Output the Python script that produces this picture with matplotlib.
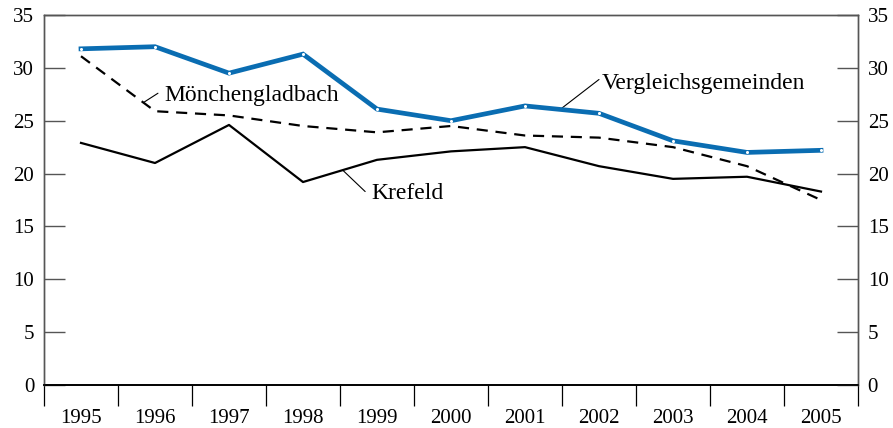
import numpy as np
import matplotlib
matplotlib.use("Agg")
import matplotlib.pyplot as plt

plt.rcParams['font.family'] = ['Liberation Serif', 'DejaVu Serif']

# Daten
jahre = ['1995', '1996', '1997', '1998', '1999', '2000', '2001', '2002', '2003', '2004', '2005']
vergleich = [31.8, 32.0, 29.5, 31.3, 26.1, 25.0, 26.4, 25.7, 23.1, 22.0, 22.2]
moenchengladbach = [31.1, 25.9, 25.5, 24.5, 23.9, 24.5, 23.6, 23.4, 22.5, 20.7, 17.5]
krefeld = [22.9, 21.0, 24.6, 19.2, 21.3, 22.1, 22.5, 20.7, 19.5, 19.7, 18.3]
y_ticks = [0, 5, 10, 15, 20, 25, 30, 35]

x = np.arange(len(jahre))
blau = '#0a6db2'
rahmen = '#555555'

fig = plt.figure(figsize=(8.93, 4.28), dpi=100)
ax = fig.add_axes([44 / 893, 43 / 428, 814 / 893, 370 / 428])

ax.plot(x, krefeld, color='black', lw=1.6, zorder=3)
ax.plot(x, moenchengladbach, color='black', lw=1.6, ls=(0, (5, 3.5)), zorder=3)
ax.plot(x, vergleich, color=blau, lw=3.4, solid_joinstyle='miter', zorder=4,
        marker='o', ms=2.2, mfc='white', mec='white', mew=0)

ax.set_xlim(-0.5, len(jahre) - 0.5)
ax.set_ylim(0, 35)

# x-Achse: Striche zwischen den Jahren, Beschriftung in der Mitte
ax.set_xticks(x)
ax.set_xticklabels(jahre, fontsize=15)
ax.set_xticks(np.arange(-0.5, len(jahre)), minor=True)
ax.tick_params(axis='x', which='major', length=0, pad=17)
ax.tick_params(axis='x', which='minor', length=15, direction='out', color='black', width=0.9)

ax.set_yticks(y_ticks)
ax.set_yticklabels([str(v) for v in y_ticks], fontsize=15)
ax.tick_params(axis='y', length=15, direction='in', color=rahmen, width=1.0, pad=7)

ax2 = ax.twinx()
ax2.set_ylim(0, 35)
ax2.set_yticks(y_ticks)
ax2.set_yticklabels([str(v) for v in y_ticks], fontsize=15)
ax2.tick_params(axis='y', length=15, direction='in', color=rahmen, width=1.0, pad=7)

for a in (ax, ax2):
    for s in ('left', 'right', 'top'):
        a.spines[s].set_color(rahmen)
        a.spines[s].set_linewidth(1.0)
    a.spines['bottom'].set_color('black')
    a.spines['bottom'].set_linewidth(1.2)

# Beschriftungen mit Hinweislinien
def beschriftung(text, start, ende, pos):
    ax.annotate('', xy=start, xytext=ende,
                arrowprops=dict(arrowstyle='-', color='black', lw=0.8, shrinkA=0, shrinkB=0))
    ax.text(pos[0], pos[1], text, fontsize=17, va='center', ha='left')

beschriftung('Mönchengladbach', (0.84, 26.7), (1.04, 27.6), (1.12, 27.4))
beschriftung('Krefeld', (3.54, 20.3), (3.84, 18.3), (3.92, 18.1))
beschriftung('Vergleichsgemeinden', (6.5, 26.2), (7.0, 28.9), (7.04, 28.5))

fig.savefig('out.png', dpi=100)
